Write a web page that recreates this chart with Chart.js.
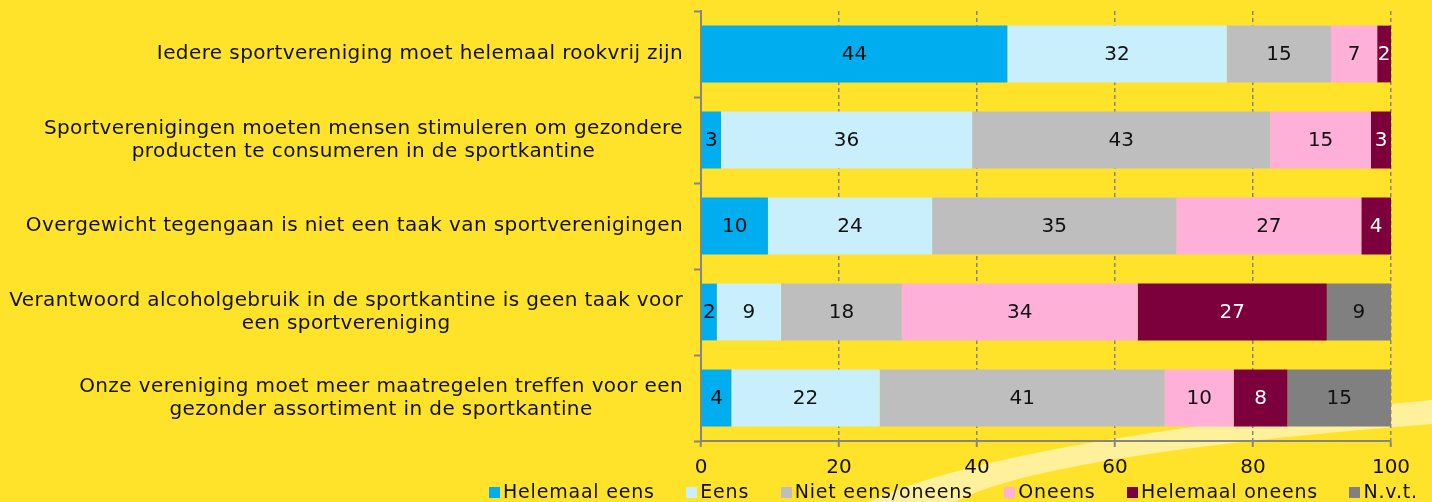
<!DOCTYPE html>
<html>
<head>
<meta charset="utf-8">
<script src="https://cdn.jsdelivr.net/npm/chart.js@4"></script>
<style>
  html, body { margin: 0; padding: 0; background: #FFE32B; }
  #wrap { position: relative; width: 1432px; height: 502px; overflow: hidden; }
  #legend { position: absolute; left: 489px; top: 479px; display: flex; gap: 31.5px;
            font-family: "DejaVu Sans", sans-serif; font-size: 19px; letter-spacing: 0.8px; color: #111; line-height: 24px; white-space: nowrap; }
  #legend span.box { display: inline-block; width: 11px; height: 11px; margin-right: 3px; }
</style>
</head>
<body>
<div id="wrap">
  <canvas id="chart" width="1432" height="502"></canvas>
  <div id="legend"></div>
</div>
<script>
const categories = [
  ['Iedere sportvereniging moet helemaal rookvrij zijn'],
  ['Sportverenigingen moeten mensen stimuleren om gezondere', 'producten te consumeren in de sportkantine'],
  ['Overgewicht tegengaan is niet een taak van sportverenigingen'],
  ['Verantwoord alcoholgebruik in de sportkantine is geen taak voor', 'een sportvereniging'],
  ['Onze vereniging moet meer maatregelen treffen voor een', 'gezonder assortiment in de sportkantine']
]
const seriesNames = ['Helemaal eens', 'Eens', 'Niet eens/oneens', 'Oneens', 'Helemaal oneens', 'N.v.t.']
const helemaalEens = [44.4, 2.9, 9.7, 2.3, 4.4]
const eens = [31.8, 36.4, 23.8, 9.3, 21.5]
const nietEensOneens = [15.1, 43.2, 35.4, 17.5, 41.3]
const oneens = [6.7, 14.6, 26.8, 34.2, 10.0]
const helemaalOneens = [2.0, 2.9, 4.3, 27.4, 7.8]
const nvt = [0, 0, 0, 9.3, 15.0]
const xTicks = [0, 20, 40, 60, 80, 100]

const colors = ['#00AEEF', '#C9EEFC', '#BEBEBE', '#FFB0D8', '#7B003C', '#808080']
const labelColors = ['#111', '#111', '#111', '#111', '#fff', '#111']
const allSeries = [helemaalEens, eens, nietEensOneens, oneens, helemaalOneens, nvt]
const FONT = '"DejaVu Sans", sans-serif'

// yellow background with the light swoosh at bottom right
const backdrop = {
  id: 'backdrop',
  beforeDraw(chart) {
    const ctx = chart.ctx
    ctx.save()
    ctx.fillStyle = '#FFE32B'
    ctx.fillRect(0, 0, chart.width, chart.height)
    ctx.fillStyle = '#FFF09C'
    ctx.beginPath()
    ctx.moveTo(868, 502)
    ctx.quadraticCurveTo(1000, 440, 1432, 400)
    ctx.lineTo(1432, 424)
    ctx.quadraticCurveTo(1040, 455, 955, 502)
    ctx.closePath()
    ctx.fill()
    ctx.restore()
  }
}

// category labels: block right-aligned to the axis, lines centred inside the block
const catLabels = {
  id: 'catLabels',
  afterDraw(chart) {
    const ctx = chart.ctx
    const y = chart.scales.y
    const right = chart.chartArea.left - 18
    ctx.save()
    ctx.font = '20px ' + FONT
    ctx.letterSpacing = '0.4px'
    ctx.fillStyle = '#111'
    ctx.textAlign = 'center'
    ctx.textBaseline = 'middle'
    categories.forEach((lines, i) => {
      const w = Math.max(...lines.map(l => ctx.measureText(l).width))
      const cy = y.getPixelForValue(i)
      const lh = 23
      lines.forEach((l, j) => {
        ctx.fillText(l, right - w / 2, cy + (j - (lines.length - 1) / 2) * lh)
      })
    })
    ctx.restore()
  }
}

// value labels in the middle of each segment
const valueLabels = {
  id: 'valueLabels',
  afterDatasetsDraw(chart) {
    const ctx = chart.ctx
    ctx.save()
    ctx.font = '20px ' + FONT
    ctx.textAlign = 'center'
    ctx.textBaseline = 'middle'
    chart.data.datasets.forEach((ds, di) => {
      const meta = chart.getDatasetMeta(di)
      meta.data.forEach((bar, i) => {
        const v = ds.data[i]
        if (!v || v < 0.5) return
        ctx.fillStyle = labelColors[di]
        ctx.fillText(Math.round(v), (bar.x + bar.base) / 2, bar.y + 1)
      })
    })
    ctx.restore()
  }
}

const data = {
  labels: categories,
  datasets: allSeries.map((s, i) => ({
    label: seriesNames[i],
    data: s,
    backgroundColor: colors[i],
    borderWidth: 0,
    barPercentage: 0.66,
    categoryPercentage: 1
  }))
}

const config = {
  type: 'bar',
  data: data,
  options: {
    indexAxis: 'y',
    responsive: false,
    animation: false,
    layout: { padding: { top: 11, bottom: 13, right: 41, left: 0 } },
    plugins: {
      legend: { display: false },
      tooltip: { enabled: false }
    },
    scales: {
      x: {
        stacked: true,
        min: 0,
        max: 100,
        afterBuildTicks: (scale) => { scale.ticks = xTicks.map(v => ({ value: v })) },
        grid: {
          color: '#858585',
          lineWidth: 1.5,
          tickLength: 6,
          tickWidth: 2,
          tickColor: '#858585'
        },
        border: { color: '#858585', width: 2, dash: [4, 3] },
        ticks: {
          color: '#111',
          padding: 9,
          maxRotation: 0,
          font: { family: FONT, size: 20 }
        }
      },
      y: {
        stacked: true,
        afterFit: (scale) => { scale.width = 701 },
        grid: {
          drawOnChartArea: false,
          tickLength: 7,
          tickWidth: 2,
          tickColor: '#858585'
        },
        border: { color: '#858585', width: 2 },
        ticks: { display: false }
      }
    }
  },
  plugins: [backdrop, catLabels, valueLabels]
}

const chart = new Chart(document.getElementById('chart'), config)

const legend = document.getElementById('legend')
seriesNames.forEach((name, i) => {
  const item = document.createElement('div')
  item.innerHTML = '<span class="box" style="background:' + colors[i] + '"></span>' + name
  legend.appendChild(item)
})
</script>
</body>
</html>
